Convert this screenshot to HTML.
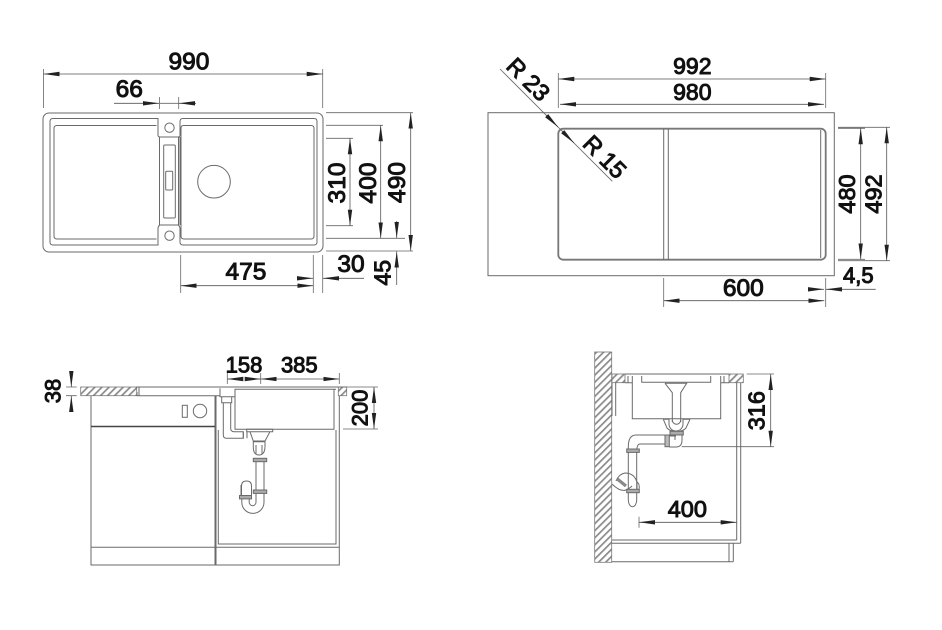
<!DOCTYPE html>
<html><head><meta charset="utf-8"><style>
html,body{margin:0;padding:0;background:#fff;width:942px;height:630px;overflow:hidden}
svg{display:block;filter:blur(.35px)}
text{font-family:"Liberation Sans",sans-serif;font-weight:normal;fill:#111;stroke:#111;stroke-width:1px;text-anchor:middle;font-size:24.500px}
.s{font-size:22px}
.g{fill:none;stroke:#6a6a6a;stroke-width:1}
.d{fill:none;stroke:#666;stroke-width:.8}
.d2{fill:none;stroke:#555;stroke-width:.8}
</style></head><body>
<svg width="942" height="630" viewBox="0 0 942 630" xmlns="http://www.w3.org/2000/svg">
<defs>
<marker id="a" markerUnits="userSpaceOnUse" markerWidth="17" markerHeight="6" refX="16" refY="2.500" orient="auto-start-reverse"><path d="M0 .3L16 2.500L0 4.700z" fill="#222"/></marker>
<pattern id="h" patternUnits="userSpaceOnUse" width="5" height="5" patternTransform="rotate(45)"><rect width="5" height="5" fill="#fff"/><rect width="1.700" height="5" fill="#8a8a8a"/></pattern>
</defs>

<!-- top-left plan -->
<g class="g">
<rect x="43" y="113" width="280" height="139" rx="6"/>
<path d="M158 118.500H53q-3 0-3 3V242q0 3 3 3H158V229q0-3 2-4H178q2 1 2 4V242q0 3 3 3H314q3 0 3-3V121.500q0-3-3-3H183q-3 0-3 3V135q0 2-2 2H160q-2 0-2-2z"/>
<path d="M156.500 125.500H57q-3 0-3 3V236q0 3 3 3H156.500"/>
<path d="M181 128q0-2.500 2.500-2.500H311q3 0 3 3V236q0 3-3 3H184q-3 0-3-3z"/>
<path d="M159.500 137V225M178.500 137V225M180 137V225"/>
<circle cx="169.500" cy="127.700" r="4.700"/><circle cx="169.500" cy="235.700" r="4.700"/>
<rect x="163.700" y="145" width="11.600" height="73" rx="1"/>
<rect x="165.700" y="171.300" width="7" height="18.700" rx="1"/>
<circle cx="214" cy="181.700" r="16.300"/>
</g>
<g class="d2">
<path d="M43.500 69V108M322.700 69V108M159.500 97V109M178.700 97V109M159.500 103.300H178.700" class="d"/>
<line x1="43.500" y1="74" x2="322.700" y2="74" marker-start="url(#a)" marker-end="url(#a)"/>
<line x1="114" y1="103.300" x2="159" y2="103.300" marker-end="url(#a)"/>
<line x1="196" y1="103.300" x2="179" y2="103.300" marker-end="url(#a)"/>
<path d="M326 112.700H413M326 251H413M326 125.300H383M326 238.300H405M326 138.300H353M326 225.700H353M180.700 255V293M313.300 255V293M322.700 255V293" class="d"/>
<line x1="410.700" y1="112.700" x2="410.700" y2="251" marker-start="url(#a)" marker-end="url(#a)"/>
<line x1="380.700" y1="125.300" x2="380.700" y2="238.300" marker-start="url(#a)" marker-end="url(#a)"/>
<line x1="350" y1="138.300" x2="350" y2="225.700" marker-start="url(#a)" marker-end="url(#a)"/>
<line x1="396.700" y1="221" x2="396.700" y2="238" marker-end="url(#a)"/>
<line x1="396.700" y1="285" x2="396.700" y2="251.500" marker-end="url(#a)"/>
<line x1="180.700" y1="285.700" x2="313.300" y2="285.700" marker-start="url(#a)" marker-end="url(#a)"/>
<line x1="297" y1="278.300" x2="313" y2="278.300" marker-end="url(#a)"/>
<line x1="364" y1="278.300" x2="323" y2="278.300" marker-end="url(#a)"/>
</g>
<text x="189" y="69.500">990</text>
<text x="129.300" y="97">66</text>
<text x="246" y="279.500">475</text>
<text x="351" y="272">30</text>
<text transform="translate(405 182.500) rotate(-90)">490</text>
<text transform="translate(376 183) rotate(-90)">400</text>
<text transform="translate(345 183) rotate(-90)">310</text>
<text transform="translate(390.700 272.700) rotate(-90)" style="font-size:23px">45</text>

<!-- top-right plan -->
<rect x="488" y="112.700" width="346.300" height="163" class="g"/>
<rect x="558.300" y="128.700" width="267.400" height="131" rx="5" fill="none" stroke="#777" stroke-width="1.800"/>
<path d="M663.700 129V260M668.300 129V260M820.700 130V258" class="g"/>
<g class="d2">
<path d="M558.300 73V108M825.700 73V108M838 128.300H865M838 259.300H865M838 127.300H890M838 260.700H890M663.700 278V307M825.700 278V307M500 69L612.300 181.300" class="d"/>
<line x1="558.300" y1="79" x2="825.700" y2="79" marker-start="url(#a)" marker-end="url(#a)"/>
<line x1="560" y1="104.300" x2="824" y2="104.300" marker-start="url(#a)" marker-end="url(#a)"/>
<line x1="860.700" y1="128.300" x2="860.700" y2="259.300" marker-start="url(#a)" marker-end="url(#a)"/>
<line x1="886.700" y1="127.300" x2="886.700" y2="260.700" marker-start="url(#a)" marker-end="url(#a)"/>
<line x1="663.700" y1="300.700" x2="824.300" y2="300.700" marker-start="url(#a)" marker-end="url(#a)"/>
<line x1="808" y1="289.300" x2="824" y2="289.300" marker-end="url(#a)"/>
<line x1="875.700" y1="289.300" x2="826" y2="289.300" marker-end="url(#a)"/>
<line x1="546" y1="115" x2="558" y2="127" marker-end="url(#a)"/>
<line x1="562" y1="131" x2="574" y2="143" marker-end="url(#a)"/>
</g>
<text x="692.300" y="74" style="font-size:23px">992</text>
<text x="692.300" y="100" style="font-size:23px">980</text>
<text x="743.300" y="296">600</text>
<text x="858.300" y="283" style="font-size:22px">4,5</text>
<text transform="translate(855 194) rotate(-90)" style="font-size:23.500px">480</text>
<text transform="translate(881.700 194) rotate(-90)" style="font-size:23.500px">492</text>
<text transform="translate(522.500 85) rotate(45)" style="font-size:23.500px">R 23</text>
<text transform="translate(599 162.500) rotate(45)" style="font-size:23.500px">R 15</text>

<!-- bottom-left section -->
<rect x="80.700" y="387" width="56" height="8.700" fill="url(#h)" stroke="#777" stroke-width=".8"/>
<rect x="338.300" y="387" width="8.400" height="8.700" fill="url(#h)" stroke="#777" stroke-width=".8"/>
<g class="g">
<path d="M136 387H347M137 395.700H220M137 392V395.700M139 387V395.700"/>
<path d="M91 395.700V565H339.300V395.700M215 395.700V565M216 395.700V565M91 547.300H339.300M218.300 430V544H336V430"/>
<path d="M91 426.500H215" stroke="#444" stroke-width="1.400"/>
<rect x="182.300" y="405.300" width="5" height="12"/>
<circle cx="200" cy="411" r="6.700"/>
<path d="M235 389.300V429.300H334V389.300M234.500 389.300H336"/>
<path d="M220 388.300V396.700H235M221.700 396.700V402.700H231.700V396.700M223.300 402.700V435q0 3.300 3.300 3.300H243.300V431.700H234q-3.300 0-3.300-3.300V402.700"/>
<path d="M243.300 431.700V438.300M247 431.700V438.300M246.700 429.300H272.700V431.700H246.700zM250 431.700L253.300 441H265L270 431.700"/>
<path d="M253.300 441.700H265V446q0 9-6 9t-5.700-9zM256 445V454M262 445V454"/>
<rect x="253.300" y="458.300" width="13.400" height="3.400" fill="#aaa"/>
<rect x="253.300" y="490" width="13.400" height="3.400" fill="#aaa"/>
<path d="M256 461.700V490M264 461.700V490"/>
<path d="M264 493.400V502.300a11.100 11.100 0 0 1-22.200 0V499M256 493.400V502.300a3.400 3.400 0 0 1-6.800 0V499"/>
<path d="M241.500 497V486q0-5 5-5t5 5V497"/>
<rect x="239.500" y="495.500" width="12" height="3.400" fill="#aaa"/>
<path d="M241 485V495"/>
<path d="M227.300 373V384M260.700 373V384M339.300 373V384M343 429H378M347 387H378" class="d"/>
<path d="M66 387H76.700M66 395.700H76.700" class="d"/>
</g>
<g class="d2">
<line x1="71.300" y1="372" x2="71.300" y2="387" marker-end="url(#a)"/>
<line x1="71.300" y1="411" x2="71.300" y2="396" marker-end="url(#a)"/>
<line x1="227.300" y1="379" x2="243" y2="379" marker-start="url(#a)"/>
<line x1="245" y1="379" x2="260.700" y2="379" marker-end="url(#a)"/>
<line x1="260.700" y1="379" x2="339.300" y2="379" marker-start="url(#a)" marker-end="url(#a)"/>
<line x1="374" y1="387" x2="374" y2="429" marker-start="url(#a)" marker-end="url(#a)"/>
</g>
<text x="244" y="372.500" class="s">158</text>
<text x="299.300" y="372.500" class="s">385</text>
<text transform="translate(60.700 391) rotate(-90)" class="s">38</text>
<text transform="translate(367.300 408) rotate(-90)" class="s">200</text>

<!-- bottom-right section -->
<rect x="594.700" y="352" width="17" height="210.300" fill="url(#h)" stroke="#777" stroke-width=".8"/>
<rect x="612" y="374" width="13" height="8.700" fill="url(#h)" stroke="#777" stroke-width=".8"/>
<rect x="729" y="374" width="14.300" height="8.700" fill="url(#h)" stroke="#777" stroke-width=".8"/>
<g class="g">
<path d="M625 374H729M612 416V382.700M615.700 416V382.700M625 382.700H632.300M720.700 382.700H729"/>
<path d="M632.300 376V418.700H720.700V376M641.700 376V382.300H710.700V376M628 376V382.700M724 376V382.700"/>
<path d="M736.700 382.700V540M740.700 382.700V543.300M611.700 540H736.700M611.700 543.300H740.700M729 543.300V561.700M733.300 543.300V561.700M611.700 561.700H733.300"/>
<path d="M665 383.300H686.700L680.700 392.700V422M665 383.300L672.300 392.700V422"/>
<path d="M672.300 420a4.200 4.200 0 0 0 8.400 0M663.300 419.300H669V424a7 7 0 0 0 14 0V419.300H690M663.300 419.300L667 428Q670 431 673 431M690 419.300L686 428Q683 431 680 431"/>
<path d="M665.700 435H636Q628.300 435 628.300 447V500a4.200 6.700 0 0 0 8.400 0V452Q636.700 444 640 444H665.700"/>
<rect x="665" y="435" width="4.300" height="11.700" fill="#bbb"/>
<path d="M669.300 436H676M669.300 447H676Q682 447 682 440V435M675 435V440"/>
<rect x="670" y="431.300" width="13.300" height="3.700" fill="#aaa"/>
<rect x="626.700" y="449" width="12.600" height="3.400" fill="#aaa"/>
<rect x="626.700" y="489.300" width="12.600" height="3.400" fill="#aaa"/>
<path d="M637 489V482Q634 473 625 473Q619 474 616 481M612 484Q620 492 626 490Q630 488 632 486M637 482Q640 484 639 489"/>
<path d="M617.300 479L626 486" stroke="#888" stroke-width="3.200"/>
<path d="M681.700 446.700H774M746.700 374H774M639 516.700V527.700" class="d"/>
</g>
<g class="d2">
<line x1="770.700" y1="374" x2="770.700" y2="446.700" marker-start="url(#a)" marker-end="url(#a)"/>
<line x1="639" y1="522.300" x2="736.700" y2="522.300" marker-start="url(#a)" marker-end="url(#a)"/>
</g>
<text x="687.300" y="517" style="font-size:23.500px">400</text>
<text transform="translate(764.300 410.700) rotate(-90)" style="font-size:23.500px">316</text>
</svg>
</body></html>
